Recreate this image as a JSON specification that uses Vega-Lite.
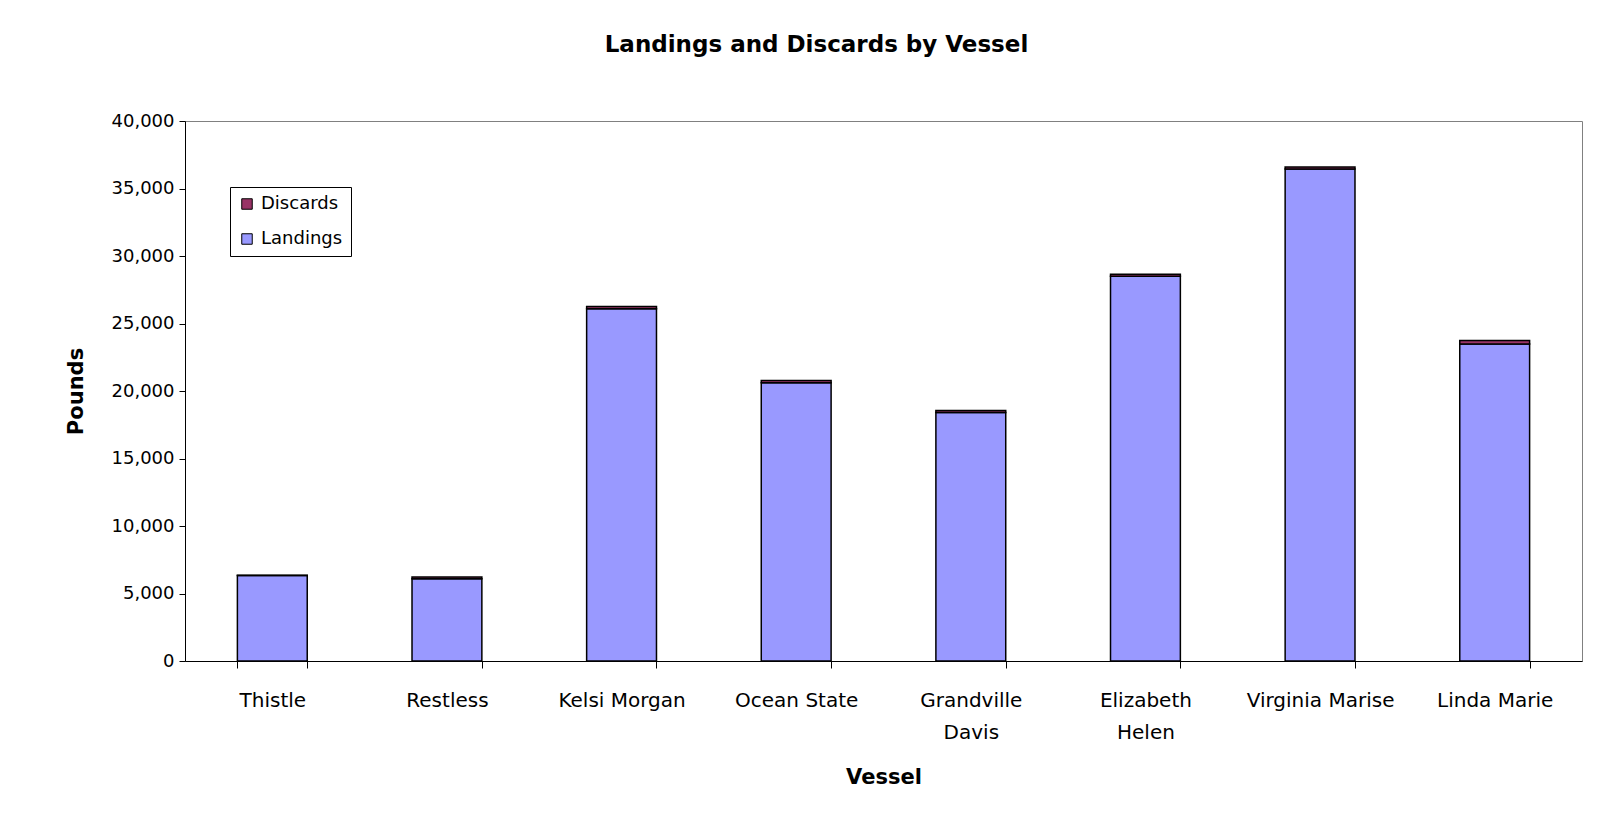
{
  "$schema": "https://vega.github.io/schema/vega-lite/v6.json",
  "autosize": "none",
  "width": 1397,
  "height": 540,
  "padding": {"left": 185, "top": 121, "right": 37, "bottom": 178},
  "background": "white",
  "config": {
    "font": "DejaVu Sans",
    "view": {"stroke": "#808080", "strokeWidth": 1}
  },
  "title": {
    "text": "Landings and Discards by Vessel",
    "fontSize": 23,
    "fontWeight": "bold",
    "font": "DejaVu Sans",
    "color": "black",
    "anchor": "middle",
    "dx": -67,
    "baseline": "alphabetic",
    "offset": 37
  },
  "data": {
    "values": [
      {"vessel": "Thistle", "type": "Landings", "pounds": 6330},
      {"vessel": "Thistle", "type": "Discards", "pounds": 30},
      {"vessel": "Restless", "type": "Landings", "pounds": 6100},
      {"vessel": "Restless", "type": "Discards", "pounds": 130},
      {"vessel": "Kelsi Morgan", "type": "Landings", "pounds": 26100},
      {"vessel": "Kelsi Morgan", "type": "Discards", "pounds": 160},
      {"vessel": "Ocean State", "type": "Landings", "pounds": 20620},
      {"vessel": "Ocean State", "type": "Discards", "pounds": 150},
      {"vessel": "Grandville Davis", "type": "Landings", "pounds": 18400},
      {"vessel": "Grandville Davis", "type": "Discards", "pounds": 150},
      {"vessel": "Elizabeth Helen", "type": "Landings", "pounds": 28500},
      {"vessel": "Elizabeth Helen", "type": "Discards", "pounds": 140},
      {"vessel": "Virginia Marise", "type": "Landings", "pounds": 36450},
      {"vessel": "Virginia Marise", "type": "Discards", "pounds": 150},
      {"vessel": "Linda Marie", "type": "Landings", "pounds": 23480},
      {"vessel": "Linda Marie", "type": "Discards", "pounds": 260}
    ]
  },
  "mark": {"type": "bar", "stroke": "black", "strokeWidth": 1.5},
  "encoding": {
    "x": {
      "field": "vessel",
      "type": "nominal",
      "sort": ["Thistle", "Restless", "Kelsi Morgan", "Ocean State", "Grandville Davis", "Elizabeth Helen", "Virginia Marise", "Linda Marie"],
      "scale": {"paddingInner": 0.6, "paddingOuter": 0.3},
      "axis": {
        "title": "Vessel",
        "titleFontSize": 21,
        "titleFontWeight": "bold",
        "titleColor": "black",
        "titlePadding": 24,
        "labelAngle": 0,
        "labelFontSize": 20,
        "labelColor": "black",
        "labelPadding": 32,
        "labelLineHeight": 32,
        "labelBaseline": "middle",
        "labelExpr": "datum.label == 'Grandville Davis' ? ['Grandville', 'Davis'] : datum.label == 'Elizabeth Helen' ? ['Elizabeth', 'Helen'] : datum.label",
        "tickBand": "extent",
        "tickSize": 7,
        "tickColor": "black",
        "domainColor": "black",
        "grid": false
      }
    },
    "y": {
      "field": "pounds",
      "type": "quantitative",
      "aggregate": "sum",
      "stack": "zero",
      "scale": {"domain": [0, 40000], "nice": false},
      "axis": {
        "title": "Pounds",
        "titleFontSize": 21,
        "titleFontWeight": "bold",
        "titleColor": "black",
        "titlePadding": 25,
        "values": [0, 5000, 10000, 15000, 20000, 25000, 30000, 35000, 40000],
        "format": ",.0f",
        "labelFontSize": 18,
        "labelColor": "black",
        "labelPadding": 5,
        "tickSize": 6,
        "tickColor": "black",
        "domainColor": "black",
        "grid": false
      }
    },
    "color": {
      "field": "type",
      "type": "nominal",
      "scale": {"domain": ["Discards", "Landings"], "range": ["#993366", "#9999FF"]},
      "legend": {
        "title": null,
        "orient": "none",
        "legendX": 45,
        "legendY": 66,
        "strokeColor": "black",
        "fillColor": "white",
        "padding": 8,
        "labelFontSize": 18,
        "labelColor": "black",
        "labelOffset": 5,
        "symbolType": "square",
        "symbolSize": 110,
        "symbolStrokeColor": "black",
        "symbolStrokeWidth": 1,
        "symbolOpacity": 1,
        "rowPadding": 17
      }
    },
    "order": {"field": "type", "sort": "descending"}
  }
}
